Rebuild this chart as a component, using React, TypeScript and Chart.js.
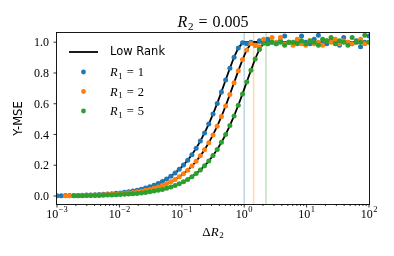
import React, { useEffect, useRef } from "react";
import { Chart, registerables } from "chart.js";

Chart.register(...registerables);

// ΔR2 grid (log-spaced sample positions)
const deltaR2 = [
  0.001, 0.001168, 0.001365, 0.001594, 0.001863, 0.002176, 0.002542, 0.002971, 0.003471, 0.004055,
  0.004737, 0.005535, 0.006467, 0.007555, 0.008827, 0.010312, 0.012049, 0.014077, 0.016446, 0.019215,
  0.022449, 0.026228, 0.030643, 0.035801, 0.041828, 0.048869, 0.057096, 0.066707, 0.077936, 0.091056,
  0.10638, 0.12429, 0.14521, 0.16966, 0.19822, 0.23158, 0.27057, 0.31623, 0.36946, 0.43166,
  0.50432, 0.5892, 0.6884, 0.80429, 0.93968, 1.0978, 1.2826, 1.4985, 1.7508, 2.0455,
  2.3898, 2.7921, 3.2621, 3.8113, 4.4529, 5.2025, 6.0782, 7.1014, 8.2969, 9.6935,
  11.325, 13.232, 15.459, 18.062, 21.102, 24.654, 28.805, 33.654, 39.319, 45.938,
  53.67, 62.705, 73.26, 85.593, 100,
];

// "Low Rank" curves (black lines)
const lowRank1 = [
  0.002, 0.002, 0.003, 0.003, 0.004, 0.004, 0.005, 0.006, 0.007, 0.008,
  0.009, 0.011, 0.013, 0.015, 0.018, 0.020, 0.024, 0.028, 0.033, 0.038,
  0.044, 0.052, 0.060, 0.070, 0.082, 0.095, 0.111, 0.129, 0.150, 0.174,
  0.201, 0.233, 0.269, 0.311, 0.357, 0.410, 0.468, 0.533, 0.602, 0.677,
  0.754, 0.831, 0.903, 0.962, 0.996, 1, 1, 1, 1, 1,
  1, 1, 1, 1, 1, 1, 1, 1, 1, 1,
  1, 1, 1, 1, 1, 1, 1, 1, 1, 1,
  1, 1, 1, 1, 1,
];
const lowRank2 = [
  0.001, 0.002, 0.002, 0.002, 0.003, 0.003, 0.004, 0.004, 0.005, 0.006,
  0.007, 0.008, 0.009, 0.011, 0.012, 0.015, 0.017, 0.020, 0.023, 0.027,
  0.031, 0.037, 0.043, 0.050, 0.058, 0.068, 0.079, 0.092, 0.107, 0.125,
  0.145, 0.168, 0.195, 0.226, 0.261, 0.301, 0.346, 0.397, 0.454, 0.517,
  0.586, 0.660, 0.737, 0.814, 0.887, 0.950, 0.991, 1, 1, 1,
  1, 1, 1, 1, 1, 1, 1, 1, 1, 1,
  1, 1, 1, 1, 1, 1, 1, 1, 1, 1,
  1, 1, 1, 1, 1,
];
const lowRank5 = [
  0.001, 0.001, 0.001, 0.001, 0.002, 0.002, 0.002, 0.003, 0.003, 0.004,
  0.004, 0.005, 0.006, 0.007, 0.008, 0.009, 0.011, 0.013, 0.015, 0.017,
  0.020, 0.023, 0.027, 0.032, 0.037, 0.043, 0.050, 0.059, 0.069, 0.080,
  0.093, 0.108, 0.126, 0.146, 0.169, 0.196, 0.227, 0.263, 0.303, 0.349,
  0.400, 0.458, 0.521, 0.590, 0.664, 0.741, 0.818, 0.891, 0.953, 0.993,
  1, 1, 1, 1, 1, 1, 1, 1, 1, 1,
  1, 1, 1, 1, 1, 1, 1, 1, 1, 1,
  1, 1, 1, 1, 1,
];

// Measured Y-MSE (dots)
const mse1 = [
  0.002, 0.002, 0.003, 0.003, 0.004, 0.004, 0.005, 0.006, 0.007, 0.008,
  0.009, 0.011, 0.013, 0.015, 0.018, 0.020, 0.024, 0.028, 0.033, 0.038,
  0.044, 0.052, 0.060, 0.070, 0.082, 0.095, 0.111, 0.129, 0.150, 0.174,
  0.201, 0.233, 0.269, 0.311, 0.357, 0.410, 0.468, 0.533, 0.602, 0.677,
  0.754, 0.831, 0.903, 0.962, 0.996, 0.99, 1.00, 0.98, 1.01, 1.00,
  1.02, 1.00, 0.99, 1.01, 1.04, 1.00, 0.99, 1.01, 1.04, 1.00,
  0.99, 1.02, 1.045, 1.00, 0.99, 1.01, 1.00, 0.98, 1.03, 1.00,
  0.99, 1.01, 0.97, 1.00, 1.04,
];
const mse2 = [
  null, null, 0.002, 0.002, 0.003, 0.003, 0.004, 0.004, 0.005, 0.006,
  0.007, 0.008, 0.009, 0.011, 0.012, 0.015, 0.017, 0.020, 0.023, 0.027,
  0.031, 0.037, 0.043, 0.050, 0.058, 0.068, 0.079, 0.092, 0.107, 0.125,
  0.145, 0.168, 0.195, 0.226, 0.261, 0.301, 0.346, 0.397, 0.454, 0.517,
  0.586, 0.660, 0.737, 0.814, 0.887, 0.950, 0.991, 0.98, 0.97, 1.02,
  0.99, 1.03, 1.00, 1.03, 0.99, 1.00, 0.98, 1.02, 0.99, 0.98,
  1.01, 0.99, 1.00, 0.98, 1.01, 1.00, 1.02, 0.99, 1.01, 1.00,
  0.99, 1.00, 1.02, 0.99, 1.00,
];
const mse5 = [
  null, null, null, null, 0.002, 0.002, 0.002, 0.003, 0.003, 0.004,
  0.004, 0.005, 0.006, 0.007, 0.008, 0.009, 0.011, 0.013, 0.015, 0.017,
  0.020, 0.023, 0.027, 0.032, 0.037, 0.043, 0.050, 0.059, 0.069, 0.080,
  0.093, 0.108, 0.126, 0.146, 0.169, 0.196, 0.227, 0.263, 0.303, 0.349,
  0.400, 0.458, 0.521, 0.590, 0.664, 0.741, 0.818, 0.891, 0.953, 0.993,
  0.99, 1.00, 0.99, 1.00, 0.98, 1.00, 1.00, 0.99, 1.01, 0.99,
  1.01, 1.00, 0.98, 1.02, 1.01, 1.03, 0.99, 1.01, 1.00, 0.98,
  1.03, 1.00, 1.00, 1.045, 1.00,
];

const r1Values = ["1", "2", "5"];
const kinkX = [1, 1.414, 2.236];
const r2Value = "0.005";
const xTickPowers = [-3, -2, -1, 0, 1, 2];
const yTicks = [0, 0.2, 0.4, 0.6, 0.8, 1.0];

const COLORS = ["#1f77b4", "#ff7f0e", "#2ca02c"];
const FAINT = ["rgba(31,119,180,0.3)", "rgba(255,127,14,0.3)", "rgba(44,160,44,0.3)"];
const Y_MIN = -0.052;
const Y_MAX = 1.06;
const SERIF = "'Liberation Serif', 'DejaVu Serif', serif";
const SANS = "'DejaVu Sans', sans-serif";

type Piece = { t: string; font: string; dy?: number; gap?: number };

function drawMath(ctx: CanvasRenderingContext2D, pieces: Piece[], x: number, y: number, align: "left" | "center" | "right") {
  const widths = pieces.map((p) => {
    ctx.font = p.font;
    return ctx.measureText(p.t).width;
  });
  const total = pieces.reduce((s, p, i) => s + (p.gap || 0) + widths[i], 0);
  let cx = align === "center" ? x - total / 2 : align === "right" ? x - total : x;
  ctx.textAlign = "left";
  ctx.textBaseline = "alphabetic";
  pieces.forEach((p, i) => {
    cx += p.gap || 0;
    ctx.font = p.font;
    ctx.fillText(p.t, cx, y + (p.dy || 0));
    cx += widths[i];
  });
}

const decorPlugin = {
  id: "decor",
  afterDraw(chart: any) {
    const ctx: CanvasRenderingContext2D = chart.ctx;
    const { left, right, top, bottom } = chart.chartArea;
    const xs = chart.scales.x;
    const ys = chart.scales.y;
    ctx.save();
    ctx.fillStyle = "#000";
    ctx.strokeStyle = "#000";

    // frame
    ctx.lineWidth = 0.9;
    ctx.strokeRect(left - 0.5, top - 0.5, right - left + 1, bottom - top + 1);

    // x ticks
    ctx.lineWidth = 0.8;
    xTickPowers.forEach((p, i) => {
      const px = xs.getPixelForValue(Math.pow(10, p));
      ctx.beginPath();
      ctx.moveTo(px, bottom);
      ctx.lineTo(px, bottom + 3.5);
      ctx.stroke();
      if (i < xTickPowers.length - 1) {
        for (let m = 2; m <= 9; m++) {
          const mx = xs.getPixelForValue(m * Math.pow(10, p));
          ctx.beginPath();
          ctx.moveTo(mx, bottom);
          ctx.lineTo(mx, bottom + 2);
          ctx.stroke();
        }
      }
      const sup = p < 0 ? "\u2212" + Math.abs(p) : String(p);
      drawMath(
        ctx,
        [
          { t: "10", font: `12px ${SERIF}` },
          { t: sup, font: `8.5px ${SERIF}`, dy: -5.5, gap: 0.5 },
        ],
        px,
        217.5,
        "center"
      );
    });

    // y ticks
    yTicks.forEach((v) => {
      const py = ys.getPixelForValue(v);
      ctx.beginPath();
      ctx.moveTo(left - 3.5, py);
      ctx.lineTo(left, py);
      ctx.stroke();
      ctx.font = `12px ${SERIF}`;
      ctx.textAlign = "right";
      ctx.textBaseline = "alphabetic";
      ctx.fillText(v.toFixed(1), left - 8, py + 4.2);
    });

    // title
    drawMath(
      ctx,
      [
        { t: "R", font: `italic 16px ${SERIF}` },
        { t: "2", font: `11px ${SERIF}`, dy: 3, gap: 0.5 },
        { t: "=", font: `16px ${SERIF}`, gap: 5 },
        { t: r2Value, font: `16px ${SERIF}`, gap: 5 },
      ],
      (left + right) / 2,
      27.3,
      "center"
    );

    // x label
    drawMath(
      ctx,
      [
        { t: "\u0394", font: `13px ${SERIF}` },
        { t: "R", font: `italic 13px ${SERIF}` },
        { t: "2", font: `9px ${SERIF}`, dy: 2.5, gap: 0.5 },
      ],
      (left + right) / 2,
      235.5,
      "center"
    );

    // y label
    ctx.save();
    ctx.translate(19, (top + bottom) / 2);
    ctx.rotate(-Math.PI / 2);
    ctx.font = `11.5px ${SANS}`;
    ctx.textAlign = "center";
    ctx.textBaseline = "middle";
    ctx.fillText("Y-MSE", 0, 0);
    ctx.restore();

    // legend
    const lx0 = 69;
    const lx1 = 98;
    const tx = 110;
    const rows = [52, 72, 91.5, 111];
    ctx.lineWidth = 1.8;
    ctx.beginPath();
    ctx.moveTo(lx0, rows[0]);
    ctx.lineTo(lx1, rows[0]);
    ctx.stroke();
    ctx.font = `11.5px ${SANS}`;
    ctx.textAlign = "left";
    ctx.textBaseline = "middle";
    ctx.fillText("Low Rank", tx, rows[0] + 0.5);
    r1Values.forEach((r, i) => {
      const ry = rows[i + 1];
      ctx.fillStyle = COLORS[i];
      ctx.beginPath();
      ctx.arc((lx0 + lx1) / 2, ry, 2.4, 0, Math.PI * 2);
      ctx.fill();
      ctx.fillStyle = "#000";
      drawMath(
        ctx,
        [
          { t: "R", font: `italic 12.5px ${SERIF}` },
          { t: "1", font: `9px ${SERIF}`, dy: 2.5, gap: 0.5 },
          { t: "=", font: `12.5px ${SERIF}`, gap: 4 },
          { t: r, font: `12.5px ${SERIF}`, gap: 4 },
        ],
        tx,
        ry + 4.3,
        "left"
      );
    });
    ctx.restore();
  },
};

function toPoints(values: (number | null)[]) {
  const out: { x: number; y: number }[] = [];
  values.forEach((v, i) => {
    if (v !== null && v !== undefined) out.push({ x: deltaR2[i], y: v });
  });
  return out;
}

function lineData(values: number[], kink: number) {
  const pts = toPoints(values);
  pts.push({ x: kink, y: 1 });
  pts.sort((a, b) => a.x - b.x);
  return pts;
}

export default function App() {
  const ref = useRef<HTMLCanvasElement | null>(null);

  useEffect(() => {
    if (!ref.current) return;
    const lineStyle = {
      type: "line" as const,
      showLine: true,
      pointRadius: 0,
      borderColor: "#000",
      borderWidth: 1.8,
      fill: false,
      order: 10,
    };
    const dotStyle = (i: number) => ({
      type: "scatter" as const,
      showLine: false,
      pointRadius: 2.5,
      pointBorderWidth: 0,
      backgroundColor: COLORS[i],
      borderColor: COLORS[i],
      order: 3 - i,
    });
    const vlines = kinkX.map((k, i) => ({
      type: "line" as const,
      label: "_v" + i,
      data: [
        { x: k, y: Y_MIN },
        { x: k, y: Y_MAX },
      ],
      showLine: true,
      pointRadius: 0,
      borderColor: FAINT[i],
      borderWidth: 1.5,
      order: 20,
    }));
    const chart = new Chart(ref.current, {
      type: "scatter",
      data: {
        datasets: [
          { ...lineStyle, label: "Low Rank", data: lineData(lowRank1, kinkX[0]) },
          { ...dotStyle(0), label: "R1 = " + r1Values[0], data: toPoints(mse1) },
          { ...dotStyle(1), label: "R1 = " + r1Values[1], data: toPoints(mse2) },
          { ...dotStyle(2), label: "R1 = " + r1Values[2], data: toPoints(mse5) },
          { ...lineStyle, label: "_lr2", data: lineData(lowRank2, kinkX[1]) },
          { ...lineStyle, label: "_lr5", data: lineData(lowRank5, kinkX[2]) },
          ...vlines,
        ] as any,
      },
      options: {
        animation: false,
        responsive: false,
        devicePixelRatio: 1,
        layout: { padding: { left: 57, right: 25, top: 33, bottom: 52 } },
        plugins: { legend: { display: false }, tooltip: { enabled: false }, title: { display: false } },
        scales: {
          x: { type: "logarithmic", min: 0.001, max: 100, display: false },
          y: { type: "linear", min: Y_MIN, max: Y_MAX, display: false },
        },
      },
      plugins: [decorPlugin],
    });
    return () => chart.destroy();
  }, []);

  return (
    <div style={{ position: "absolute", left: 0, top: 0, width: 394, height: 256, background: "#fff" }}>
      <canvas ref={ref} width={394} height={256} style={{ display: "block", width: 394, height: 256 }} />
    </div>
  );
}
